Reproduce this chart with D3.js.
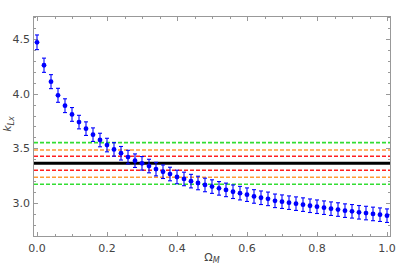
<!DOCTYPE html>
<html>
<head>
<meta charset="utf-8">
<script src="https://cdn.jsdelivr.net/npm/d3@7"></script>
<style>
  body { margin: 0; background: #fff; }
  text { font-family: "DejaVu Sans", sans-serif; }
</style>
</head>
<body>
<div id="chart"></div>
<script>
// Omega_M grid (51 points, 0 -> 1)
var omegaM = [0.00, 0.02, 0.04, 0.06, 0.08, 0.10, 0.12, 0.14, 0.16, 0.18,
              0.20, 0.22, 0.24, 0.26, 0.28, 0.30, 0.32, 0.34, 0.36, 0.38,
              0.40, 0.42, 0.44, 0.46, 0.48, 0.50, 0.52, 0.54, 0.56, 0.58,
              0.60, 0.62, 0.64, 0.66, 0.68, 0.70, 0.72, 0.74, 0.76, 0.78,
              0.80, 0.82, 0.84, 0.86, 0.88, 0.90, 0.92, 0.94, 0.96, 0.98, 1.00];

var kLx = [4.47, 4.26, 4.11, 3.985, 3.89, 3.81, 3.74, 3.68, 3.625, 3.576,
           3.53, 3.49, 3.455, 3.42, 3.387, 3.363, 3.338, 3.31, 3.286, 3.265,
           3.238, 3.22, 3.20, 3.183, 3.165, 3.15, 3.134, 3.12, 3.103, 3.09,
           3.076, 3.06, 3.048, 3.038, 3.02, 3.012, 3.003, 2.994, 2.985, 2.975,
           2.966, 2.957, 2.948, 2.94, 2.93, 2.924, 2.915, 2.908, 2.90, 2.893, 2.884];

var kLxErr = [0.067, 0.065, 0.064, 0.064, 0.063, 0.063, 0.062, 0.062, 0.062, 0.062,
              0.062, 0.062, 0.062, 0.062, 0.062, 0.062, 0.062, 0.062, 0.062, 0.062,
              0.062, 0.062, 0.062, 0.062, 0.062, 0.062, 0.062, 0.062, 0.062, 0.062,
              0.062, 0.062, 0.062, 0.062, 0.062, 0.062, 0.062, 0.062, 0.062, 0.062,
              0.062, 0.062, 0.062, 0.062, 0.062, 0.062, 0.062, 0.062, 0.062, 0.062, 0.062];

// reference levels: central value and 1/2/3 sigma bands
var refLevels = [3.363, 3.427, 3.300, 3.485, 3.235, 3.552, 3.171];
var refColors = ["#000000", "#ff2020", "#ff2020", "#ff9933", "#ff9933", "#33dd33", "#33dd33"];

var xTicks = [0, 0.2, 0.4, 0.6, 0.8, 1.0];
var yTicks = [3.0, 3.5, 4.0, 4.5];

var W = 407, H = 267;
var frame = { left: 33, right: 390, top: 16, bottom: 236 };

var svg = d3.select("#chart").append("svg")
    .attr("width", W)
    .attr("height", H);

var x = d3.scaleLinear()
    .domain([0, 1])
    .range([37, 387]);

var y = d3.scaleLinear()
    .domain([3.0, 4.5])
    .range([203, 39]);

// Frame
svg.append("rect")
    .attr("x", frame.left + 0.5)
    .attr("y", frame.top + 0.5)
    .attr("width", frame.right - frame.left)
    .attr("height", frame.bottom - frame.top)
    .attr("fill", "none")
    .attr("stroke", "#999")
    .attr("stroke-width", 1);

// Ticks (inward, on all four sides)
var xMinor = d3.range(0, 1.0001, 0.05);
var yMinor = d3.range(2.8, 4.70001, 0.1);

function isMajorX(v) { return Math.abs(v * 5 - Math.round(v * 5)) < 1e-6; }
function isMajorY(v) { return Math.abs(v * 2 - Math.round(v * 2)) < 1e-6; }

var tickG = svg.append("g").attr("stroke", "#999").attr("stroke-width", 1);

xMinor.forEach(function (v) {
    var len = isMajorX(v) ? 4 : 2;
    var px = Math.round(x(v)) + 0.5;
    tickG.append("line").attr("x1", px).attr("x2", px)
        .attr("y1", frame.bottom).attr("y2", frame.bottom - len);
    tickG.append("line").attr("x1", px).attr("x2", px)
        .attr("y1", frame.top + 1).attr("y2", frame.top + 1 + len);
});

yMinor.forEach(function (v) {
    var py = y(v);
    if (py < frame.top + 1 || py > frame.bottom) return;
    py = Math.round(py) + 0.5;
    var len = isMajorY(v) ? 4 : 2;
    tickG.append("line").attr("x1", frame.left + 1).attr("x2", frame.left + 1 + len)
        .attr("y1", py).attr("y2", py);
    tickG.append("line").attr("x1", frame.right).attr("x2", frame.right - len)
        .attr("y1", py).attr("y2", py);
});

// Tick labels
svg.append("g").selectAll("text")
    .data(xTicks)
    .enter()
    .append("text")
    .attr("x", function (d) { return x(d); })
    .attr("y", 252)
    .attr("text-anchor", "middle")
    .attr("font-size", 11)
    .attr("fill", "#444")
    .text(function (d) { return d.toFixed(1); });

svg.append("g").selectAll("text")
    .data(yTicks)
    .enter()
    .append("text")
    .attr("x", 30)
    .attr("y", function (d) { return y(d) + 4; })
    .attr("text-anchor", "end")
    .attr("font-size", 11)
    .attr("fill", "#444")
    .text(function (d) { return d.toFixed(1); });

// Axis labels
var yl = svg.append("text")
    .attr("transform", "translate(11,124) rotate(-90)")
    .attr("text-anchor", "middle")
    .attr("font-size", 11)
    .attr("fill", "#444");
yl.append("tspan").attr("font-style", "italic").text("k");
yl.append("tspan").attr("font-size", 8).attr("dy", 3).attr("font-style", "italic").text("Lx");

var xl = svg.append("text")
    .attr("x", 212)
    .attr("y", 261)
    .attr("text-anchor", "middle")
    .attr("font-size", 11)
    .attr("fill", "#444");
xl.append("tspan").text("\u03A9");
xl.append("tspan").attr("font-size", 8).attr("dy", 2).attr("font-style", "italic").text("M");

// Reference lines
var refG = svg.append("g");
refLevels.forEach(function (v, i) {
    var main = i === 0;
    refG.append("line")
        .attr("x1", frame.left + 1)
        .attr("x2", frame.right)
        .attr("y1", y(v))
        .attr("y2", y(v))
        .attr("stroke", refColors[i])
        .attr("stroke-width", main ? 3 : 1.6)
        .attr("stroke-dasharray", main ? null : "4,2");
});

// Error bars
var pts = omegaM.map(function (m, i) { return { m: m, k: kLx[i], e: kLxErr[i] }; });

var errG = svg.append("g").attr("stroke", "#0000ff").attr("stroke-width", 1.1);
errG.selectAll(".bar")
    .data(pts)
    .enter()
    .append("line")
    .attr("class", "bar")
    .attr("x1", function (d) { return x(d.m); })
    .attr("x2", function (d) { return x(d.m); })
    .attr("y1", function (d) { return y(d.k - d.e); })
    .attr("y2", function (d) { return y(d.k + d.e); });

errG.selectAll(".capTop")
    .data(pts)
    .enter()
    .append("line")
    .attr("class", "capTop")
    .attr("x1", function (d) { return x(d.m) - 2; })
    .attr("x2", function (d) { return x(d.m) + 2; })
    .attr("y1", function (d) { return y(d.k + d.e); })
    .attr("y2", function (d) { return y(d.k + d.e); });

errG.selectAll(".capBot")
    .data(pts)
    .enter()
    .append("line")
    .attr("class", "capBot")
    .attr("x1", function (d) { return x(d.m) - 2; })
    .attr("x2", function (d) { return x(d.m) + 2; })
    .attr("y1", function (d) { return y(d.k - d.e); })
    .attr("y2", function (d) { return y(d.k - d.e); });

// Points
svg.append("g").selectAll("circle")
    .data(pts)
    .enter()
    .append("circle")
    .attr("cx", function (d) { return x(d.m); })
    .attr("cy", function (d) { return y(d.k); })
    .attr("r", 2.4)
    .attr("fill", "#0000ff");
</script>
</body>
</html>
